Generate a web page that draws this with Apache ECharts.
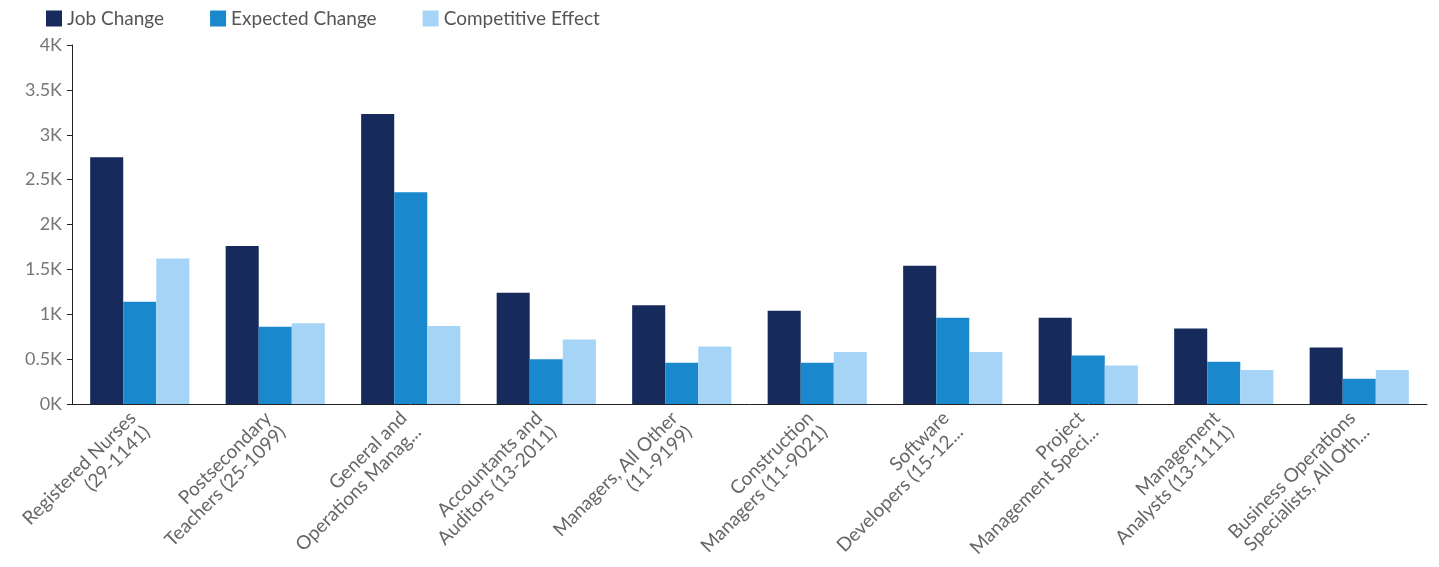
<!DOCTYPE html>
<html>
<head>
<meta charset="utf-8">
<script src="https://cdn.jsdelivr.net/npm/echarts@6/dist/echarts.min.js"></script>
<style>
html,body{margin:0;padding:0;background:#fff;}
#chart{width:1439px;height:567px;}
</style>
</head>
<body>
<div id="chart"></div>
<script>
const categories = [
  "Registered Nurses\n(29-1141)",
  "Postsecondary\nTeachers (25-1099)",
  "General and\nOperations Manag...",
  "Accountants and\nAuditors (13-2011)",
  "Managers, All Other\n(11-9199)",
  "Construction\nManagers (11-9021)",
  "Software\nDevelopers (15-12...",
  "Project\nManagement Speci...",
  "Management\nAnalysts (13-1111)",
  "Business Operations\nSpecialists, All Oth..."
];
const jobChange = [2750, 1760, 3230, 1240, 1100, 1040, 1540, 960, 840, 630];
const expectedChange = [1140, 860, 2360, 500, 460, 460, 960, 540, 470, 280];
const competitiveEffect = [1620, 900, 870, 720, 640, 580, 580, 430, 380, 380];
const yTicks = { min: 0, max: 4000, interval: 500 };

const chart = echarts.init(document.getElementById('chart'));
const font = 'Lato';
chart.setOption({
  animation: false,
  textStyle: { fontFamily: font },
  color: ['#162a5b', '#1a88cc', '#a6d4f6'],
  legend: {
    left: 41, top: 4,
    itemWidth: 16, itemHeight: 16, itemGap: 46,
    icon: 'rect',
    textStyle: { fontFamily: font, fontSize: 19, color: '#555' },
    data: ['Job Change', 'Expected Change', 'Competitive Effect']
  },
  grid: { left: 72, right: 12, top: 45, bottom: 163, containLabel: false },
  xAxis: {
    type: 'category',
    data: categories,
    axisLine: { lineStyle: { color: '#222', width: 1 } },
    axisTick: { alignWithLabel: true, length: 5, lineStyle: { color: '#222' } },
    axisLabel: { rotate: 45, interval: 0, fontFamily: font, fontSize: 19, lineHeight: 20, color: '#666', margin: 18 }
  },
  yAxis: {
    type: 'value',
    min: yTicks.min, max: yTicks.max, interval: yTicks.interval,
    splitLine: { show: false },
    axisLine: { show: true, lineStyle: { color: '#222', width: 1 } },
    axisTick: { show: true, length: 5, lineStyle: { color: '#222' } },
    axisLabel: { fontFamily: font, fontSize: 18, color: '#777', margin: 10,
      formatter: v => (v / 1000) + 'K' }
  },
  series: [
    { name: 'Job Change', type: 'bar', data: jobChange, barWidth: '24.4%', barGap: '0%' },
    { name: 'Expected Change', type: 'bar', data: expectedChange, barWidth: '24.4%', barGap: '0%' },
    { name: 'Competitive Effect', type: 'bar', data: competitiveEffect, barWidth: '24.4%', barGap: '0%' }
  ]
});
</script>
</body>
</html>
